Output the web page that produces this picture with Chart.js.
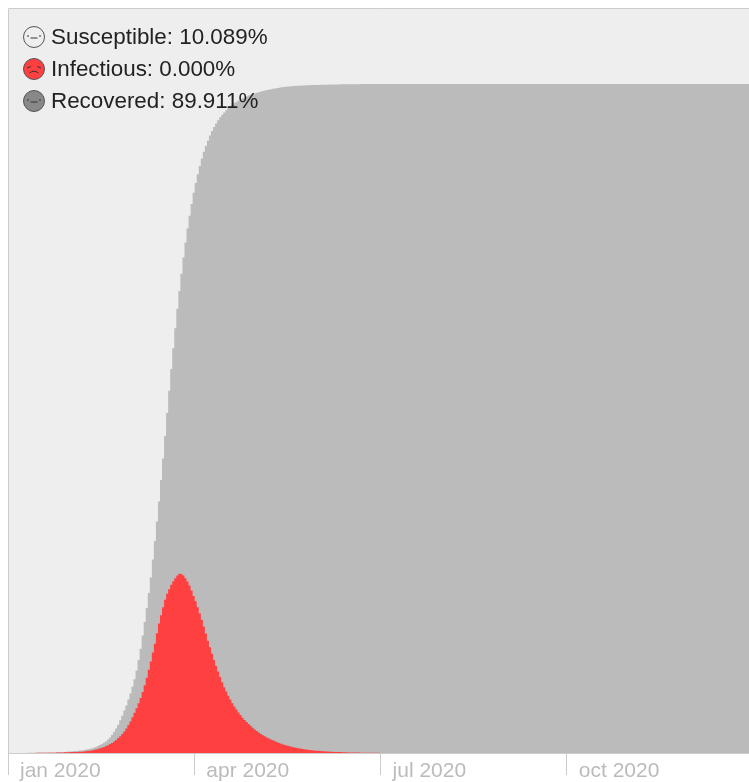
<!DOCTYPE html>
<html>
<head>
<meta charset="utf-8">
<title>SIR</title>
<script src="https://cdn.jsdelivr.net/npm/chart.js@4"></script>
<style>
  html, body { margin: 0; padding: 0; background: #fff; }
  canvas { display: block; }
</style>
</head>
<body>
<canvas id="sirChart" width="749" height="782"></canvas>
<script>
// days since 1 jan 2020, one entry a day through the epidemic, then sparse along the tail
const days = [
  0,1,2,3,4,5,6,7,8,9,10,11,12,13,14,15,16,17,18,19,
  20,21,22,23,24,25,26,27,28,29,30,31,32,33,34,35,36,37,38,39,
  40,41,42,43,44,45,46,47,48,49,50,51,52,53,54,55,56,57,58,59,
  60,61,62,63,64,65,66,67,68,69,70,71,72,73,74,75,76,77,78,79,
  80,81,82,83,84,85,86,87,88,89,90,91,92,93,94,95,96,97,98,99,
  100,101,102,103,104,105,106,107,108,109,110,111,112,113,114,115,116,117,118,119,
  120,121,122,123,124,125,126,127,128,129,130,131,132,133,134,135,136,137,138,139,
  140,141,142,143,144,145,146,147,148,149,150,151,152,153,154,155,156,157,158,159,
  160,161,162,163,164,165,166,167,168,169,170,175,180,185,190,364
];
// percent of the population currently infectious
const infectious = [
  0,0,0,0,0,0,0,0,.01,.01,.01,.01,.01,.01,.02,.02,.02,.02,.03,.03,
  .04,.04,.05,.05,.06,.07,.07,.08,.09,.1,.11,.12,.13,.14,.15,.16,.18,.2,.22,.26,
  .3,.35,.4,.47,.55,.63,.72,.82,.93,1.05,1.2,1.35,1.55,1.75,2,2.25,2.55,2.9,3.3,3.75,
  4.25,4.8,5.4,6,6.7,7.4,8.2,9.1,10.1,11.2,12.3,13.5,14.7,16.1,17.4,18.5,19.6,20.6,21.4,22,
  22.6,23.1,23.5,23.85,24.1,24.05,23.85,23.5,23.05,22.5,21.85,21.1,20.4,19.6,18.8,17.9,17,16.05,15.1,14.2,
  13.35,12.5,11.7,10.95,10.2,9.5,8.85,8.25,7.7,7.2,6.7,6.25,5.85,5.45,5.1,4.75,4.45,4.15,3.9,3.65,
  3.4,3.15,2.95,2.75,2.55,2.4,2.25,2.1,1.95,1.82,1.7,1.58,1.46,1.35,1.25,1.15,1.06,.98,.91,.84,
  .78,.72,.66,.61,.56,.52,.48,.44,.4,.37,.34,.31,.29,.27,.25,.23,.21,.19,.18,.16,
  .15,.14,.13,.12,.11,.1,.09,.08,.08,.07,.07,.05,.03,.01,0,0
];
// percent no longer susceptible (infectious + recovered), the top of the grey area
const notSusceptible = [
  0,0,0,0,0,0,0,0,.01,.01,.02,.02,.02,.02,.03,.03,.03,.03,.04,.05,
  .06,.06,.07,.08,.09,.11,.11,.13,.15,.16,.2,.21,.23,.26,.28,.33,.35,.37,.45,.49,
  .55,.62,.7,.82,.95,1.08,1.22,1.38,1.55,1.8,2.1,2.45,2.85,3.3,3.8,4.4,5,5.7,6.4,7.2,
  8,8.9,9.9,11.1,12.5,14,15.8,17.6,19.5,21.5,23.6,26,28.5,31.1,33.8,36.7,39.6,42.6,45.7,48.7,
  51.6,54.4,57.1,59.7,62.1,64.4,66.6,68.6,70.5,72.2,73.8,75.3,76.6,77.8,78.9,79.9,80.8,81.6,82.3,83,
  83.6,84.15,84.6,85.05,85.45,85.8,86.1,86.4,86.7,86.95,87.15,87.35,87.55,87.7,87.85,88,88.12,88.24,88.36,88.46,
  88.56,88.65,88.74,88.82,88.9,88.97,89.04,89.1,89.16,89.22,89.28,89.33,89.38,89.43,89.47,89.51,89.54,89.57,89.6,89.63,
  89.65,89.67,89.69,89.7,89.72,89.73,89.74,89.75,89.76,89.77,89.78,89.79,89.8,89.81,89.82,89.82,89.83,89.84,89.84,89.85,
  89.85,89.86,89.86,89.87,89.87,89.88,89.88,89.89,89.89,89.9,89.9,89.91,89.91,89.91,89.91,89.91
];

// quarter ticks on the day axis and their labels
const tickDays = [0, 91.3, 182.6, 273.9];
const tickLabels = ["jan 2020", "apr 2020", "jul 2020", "oct 2020"];

// legend rows
const legendNames = ["Susceptible", "Infectious", "Recovered"];
const legendValues = ["10.089%", "0.000%", "89.911%"];
const legendColors = ["#eeeeee", "#ff4040", "#888888"];

function toPoints(values) {
  return values.map((v, i) => ({ x: days[i], y: v }));
}

function drawFace(ctx, x, y, color, sick) {
  ctx.beginPath();
  ctx.arc(x, y, 10.5, 0, Math.PI * 2);
  ctx.fillStyle = color;
  ctx.fill();
  ctx.lineWidth = 1;
  ctx.strokeStyle = "#555";
  ctx.stroke();
  ctx.strokeStyle = "#333";
  ctx.beginPath();
  if (sick) {
    ctx.moveTo(x - 7, y - 1); ctx.lineTo(x - 3, y - 2.5);
    ctx.moveTo(x + 7, y - 1); ctx.lineTo(x + 3, y - 2.5);
    ctx.moveTo(x - 4.5, y + 4); ctx.quadraticCurveTo(x, y + 0.5, x + 4.5, y + 4);
  } else {
    ctx.moveTo(x - 7, y - 1); ctx.lineTo(x - 5, y - 1);
    ctx.moveTo(x + 7, y - 1); ctx.lineTo(x + 5, y - 1);
    ctx.moveTo(x - 3.5, y + 1); ctx.lineTo(x + 3.5, y + 1);
  }
  ctx.stroke();
}

// the susceptible background behind the areas, then frame and legend on top
const framePlugin = {
  id: "frame",
  beforeDatasetsDraw(chart) {
    const { ctx, chartArea } = chart;
    ctx.save();
    ctx.fillStyle = legendColors[0];
    ctx.fillRect(chartArea.left, chartArea.top, chartArea.width, chartArea.height);
    ctx.restore();
  },
  afterDatasetsDraw(chart) {
    const { ctx, chartArea } = chart;
    ctx.save();
    ctx.strokeStyle = "#cccccc";
    ctx.lineWidth = 1;
    ctx.beginPath();
    ctx.moveTo(chartArea.left + 0.5, chartArea.bottom);
    ctx.lineTo(chartArea.left + 0.5, chartArea.top - 0.5);
    ctx.lineTo(chartArea.right, chartArea.top - 0.5);
    ctx.stroke();

    ctx.font = '22.4px "Liberation Sans"';
    ctx.textBaseline = "middle";
    ctx.textAlign = "left";
    legendNames.forEach((name, i) => {
      const y = 37 + i * 32;
      drawFace(ctx, 34, y, legendColors[i], i === 1);
      ctx.fillStyle = "#222";
      ctx.fillText(name + ": " + legendValues[i], 51, y + 1);
    });
    ctx.restore();
  },
};

new Chart(document.getElementById("sirChart").getContext("2d"), {
  type: "line",
  data: {
    datasets: [
      { label: "Infectious", data: toPoints(infectious), backgroundColor: "#ff4040", fill: "origin", order: 1 },
      { label: "Recovered", data: toPoints(notSusceptible), backgroundColor: "#bbbbbb", fill: "origin", order: 2 },
    ],
  },
  options: {
    responsive: false,
    animation: false,
    layout: { padding: { left: 8, top: 9, right: 0, bottom: 0 } },
    elements: {
      line: { stepped: "middle", borderWidth: 0 },
      point: { radius: 0 },
    },
    plugins: { legend: { display: false }, tooltip: { enabled: false } },
    scales: {
      x: {
        type: "linear",
        min: 0,
        max: 363.2,
        z: 1,
        afterBuildTicks(axis) {
          axis.ticks = tickDays.map((d) => ({ value: d }));
        },
        afterFit(axis) {
          axis.height = 29;
        },
        grid: { drawOnChartArea: false, color: "#cccccc", tickLength: 22 },
        border: { color: "#cccccc" },
        ticks: {
          align: "start",
          padding: -16,
          labelOffset: 12,
          maxRotation: 0,
          autoSkip: false,
          color: "#bbbbbb",
          font: { family: "Liberation Sans", size: 21 },
          callback: (value) => tickLabels[tickDays.indexOf(value)],
        },
      },
      y: {
        display: false,
        min: 0,
        max: 100,
      },
    },
  },
  plugins: [framePlugin],
});
</script>
</body>
</html>
